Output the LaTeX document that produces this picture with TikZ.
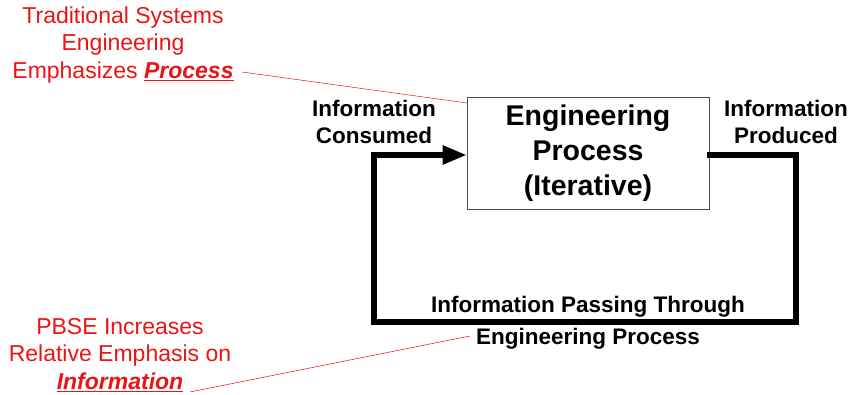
\documentclass[tikz,border=0pt]{standalone}
\usepackage{fontspec}
\setmainfont{Liberation Sans}
\usetikzlibrary{arrows.meta}
\definecolor{emred}{RGB}{235,20,20}
\begin{document}
\begin{tikzpicture}[x=1pt,y=-1pt,
  redtxt/.style={text=emred,align=center,inner sep=0pt,font=\fontsize{23}{27.5}\selectfont},
  lbl/.style={align=center,inner sep=0pt,font=\bfseries\fontsize{22.5}{27}\selectfont},
  loop/.style={line width=5.5pt,line cap=rect},
  leader/.style={draw=emred,line width=0.5pt}]
\useasboundingbox (0,0) rectangle (854,395);
% central process box
\node[draw=black!70,line width=0.6pt,minimum width=242pt,minimum height=112pt,inner sep=0pt,
      align=center,font=\bfseries\fontsize{28.5}{35}\selectfont] (proc) at (588,153)
      {Engineering\\Process\\(Iterative)};
% corner points of the information loop
\coordinate (tl) at (374,155);
\coordinate (bl) at (374,322);
\coordinate (br) at (796,322);
\coordinate (tr) at (796,155);
\draw[loop] (proc.east |- tr) -- (tr) -- (br) -- (bl) -- (tl);
\draw[line width=5.5pt,-{Triangle[length=24pt,width=18pt]}] (tl) -- (proc.west |- tl);
% loop labels
\node[lbl] (cons) at (374,122) {Information\\Consumed};
\node[lbl] (prod) at (786,122) {Information\\Produced};
\node[lbl] (pass) at (588,307) {Information Passing Through};
\node[lbl] (eng) at (588,339) {Engineering Process};
% annotations
\node[redtxt] (trad) at (123,45) {Traditional Systems\\Engineering\\Emphasizes \underline{\textbf{\textit{Process}}}};
\node[redtxt] (pbse) at (120,355) {PBSE Increases\\Relative Emphasis on\\\underline{\textbf{\textit{Information}}}};
\coordinate (tradend) at (242,72);
\coordinate (pbseend) at (190,392);
\draw[leader] (tradend) -- (467,103);
\draw[leader] (pbseend) -- (470,336);
\end{tikzpicture}
\end{document}
